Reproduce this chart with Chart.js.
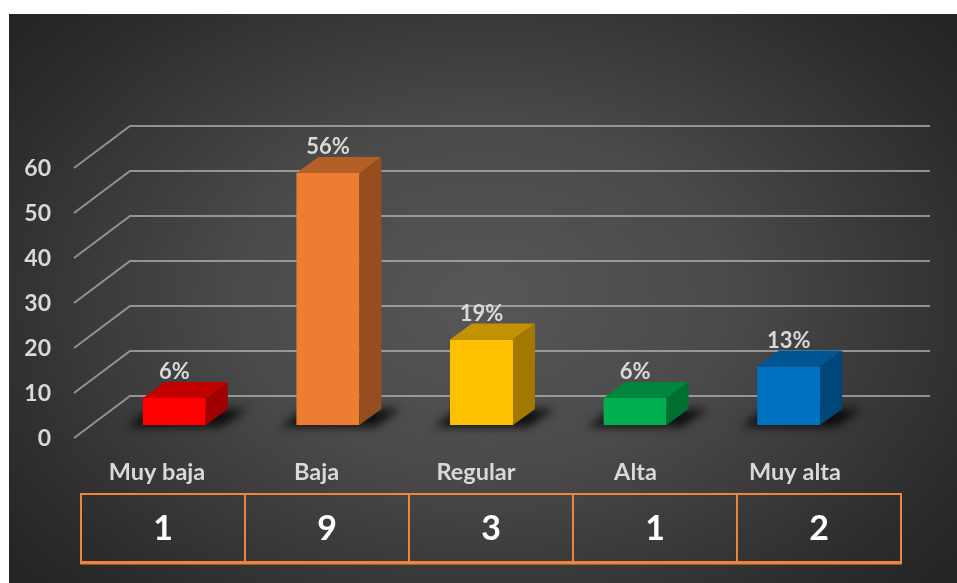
<!DOCTYPE html>
<html>
<head>
<meta charset="utf-8">
<script src="https://cdn.jsdelivr.net/npm/chart.js@4.4.0/dist/chart.umd.min.js"></script>
<style>
    html, body { margin: 0; padding: 0; background: #fff; }
    #fondo {
        position: absolute; left: 9px; top: 14px; width: 948px; height: 569px;
        background: radial-gradient(ellipse 65% 75% at 50% 50%, #575757 0%, #4a4a4a 40%, #2c2c2c 85%, #242424 100%);
    }
    #wrap { position: absolute; left: 0; top: 0; width: 957px; height: 583px; }
</style>
</head>
<body>
<div id="fondo"></div>
<div id="wrap"><canvas id="grafico" width="957" height="583"></canvas></div>
<script>
const categorias = ['Muy baja', 'Baja', 'Regular', 'Alta', 'Muy alta'];
const porcentajes = [6, 56, 19, 6, 13];
const frecuencias = [1, 9, 3, 1, 2];
const colores = ['#ff0000', '#ed7d31', '#ffc000', '#00b050', '#0070c0'];
const ticksY = [0, 10, 20, 30, 40, 50, 60];

const FUENTE = 'Lato, "Open Sans", sans-serif';
const PROF_X = 22, PROF_Y = -16;   // profundidad de la barra
const PARED = 29;                   // desplazamiento de la pared del fondo

function oscurecer(hex, f) {
    const n = parseInt(hex.slice(1), 16);
    const r = Math.round(((n >> 16) & 255) * f);
    const g = Math.round(((n >> 8) & 255) * f);
    const b = Math.round((n & 255) * f);
    return `rgb(${r},${g},${b})`;
}

const efecto3d = {
    id: 'efecto3d',
    beforeDatasetsDraw(chart) {
        const ctx = chart.ctx, y = chart.scales.y, area = chart.chartArea;
        ctx.save();
        // lineas de la pared del fondo
        ctx.strokeStyle = 'rgba(185,185,185,0.7)';
        ctx.lineWidth = 2;
        ticksY.forEach(v => {
            const py = y.getPixelForValue(v) - PARED;
            ctx.beginPath();
            ctx.moveTo(area.left - 23.5, py + 42);
            ctx.lineTo(area.left + 32.5, py);
            ctx.lineTo(area.right + 64.5, py);
            ctx.stroke();
        });
        // sombras bajo las barras
        const meta = chart.getDatasetMeta(0);
        ctx.filter = 'blur(5px)';
        ctx.fillStyle = 'rgba(0,0,0,0.8)';
        meta.data.forEach(bar => {
            const x0 = bar.x - bar.width / 2, x1 = bar.x + bar.width / 2, b = bar.base;
            ctx.beginPath();
            ctx.moveTo(x0 - 16, b + 2);
            ctx.lineTo(x1 + 15, b + 2);
            ctx.lineTo(x1 + 42, b - 16);
            ctx.lineTo(x0 + 8, b - 16);
            ctx.closePath();
            ctx.fill();
        });
        ctx.filter = 'none';
        ctx.restore();
    },
    afterDatasetsDraw(chart) {
        const ctx = chart.ctx;
        const meta = chart.getDatasetMeta(0);
        ctx.save();
        meta.data.forEach((bar, i) => {
            const x0 = bar.x - bar.width / 2, x1 = bar.x + bar.width / 2;
            const top = bar.y, base = bar.base;
            // cara superior
            ctx.fillStyle = oscurecer(colores[i], 0.76);
            ctx.beginPath();
            ctx.moveTo(x0, top);
            ctx.lineTo(x1, top);
            ctx.lineTo(x1 + PROF_X, top + PROF_Y);
            ctx.lineTo(x0 + PROF_X, top + PROF_Y);
            ctx.closePath();
            ctx.fill();
            // cara lateral
            ctx.fillStyle = oscurecer(colores[i], 0.63);
            ctx.beginPath();
            ctx.moveTo(x1, top);
            ctx.lineTo(x1 + PROF_X, top + PROF_Y);
            ctx.lineTo(x1 + PROF_X, base + PROF_Y);
            ctx.lineTo(x1, base);
            ctx.closePath();
            ctx.fill();
            // etiqueta de porcentaje
            ctx.fillStyle = '#d9d9d9';
            ctx.font = 'bold 22px ' + FUENTE;
            ctx.textAlign = 'center';
            ctx.textBaseline = 'middle';
            ctx.fillText(porcentajes[i] + '%', bar.x, top - 26);
        });

        // categorias
        ctx.fillStyle = '#d9d9d9';
        ctx.font = 'bold 23.5px ' + FUENTE;
        categorias.forEach((c, i) => {
            ctx.fillText(c, 157 + i * 159.5, 472);
        });

        // tabla de frecuencias
        const tIzq = 81, tArriba = 494, tAbajo = 562, anchoCol = 164;
        ctx.strokeStyle = '#f0843a';
        ctx.lineWidth = 2;
        ctx.strokeRect(tIzq, tArriba, anchoCol * frecuencias.length, tAbajo - tArriba);
        for (let i = 1; i < frecuencias.length; i++) {
            ctx.beginPath();
            ctx.moveTo(tIzq + i * anchoCol, tArriba);
            ctx.lineTo(tIzq + i * anchoCol, tAbajo);
            ctx.stroke();
        }
        ctx.lineWidth = 3;
        ctx.beginPath();
        ctx.moveTo(tIzq - 1, tAbajo + 1);
        ctx.lineTo(tIzq + anchoCol * frecuencias.length + 1, tAbajo + 1);
        ctx.stroke();
        ctx.fillStyle = '#ffffff';
        ctx.font = 'bold 34px ' + FUENTE;
        frecuencias.forEach((f, i) => {
            ctx.fillText(String(f), tIzq + (i + 0.5) * anchoCol, 529);
        });
        ctx.restore();
    }
};

new Chart(document.getElementById('grafico'), {
    type: 'bar',
    data: {
        labels: categorias,
        datasets: [{
            data: porcentajes,
            backgroundColor: colores,
            borderWidth: 0,
            barPercentage: 0.41,
            categoryPercentage: 1
        }]
    },
    options: {
        responsive: false,
        animation: false,
        layout: { padding: { left: 0, right: 91.5, top: 155, bottom: 158 } },
        plugins: { legend: { display: false }, tooltip: { enabled: false } },
        scales: {
            x: { display: false },
            y: {
                min: 0,
                max: 60,
                afterFit: (s) => { s.width = 97.5; },
                afterBuildTicks: (s) => { s.ticks = ticksY.map(v => ({ value: v })); },
                grid: { display: false, drawTicks: false },
                border: { display: false },
                ticks: {
                    color: '#d9d9d9',
                    font: { family: FUENTE, size: 23, weight: 'bold' },
                    padding: 46.5,
                    labelOffset: 14
                }
            }
        }
    },
    plugins: [efecto3d]
});
</script>
</body>
</html>
